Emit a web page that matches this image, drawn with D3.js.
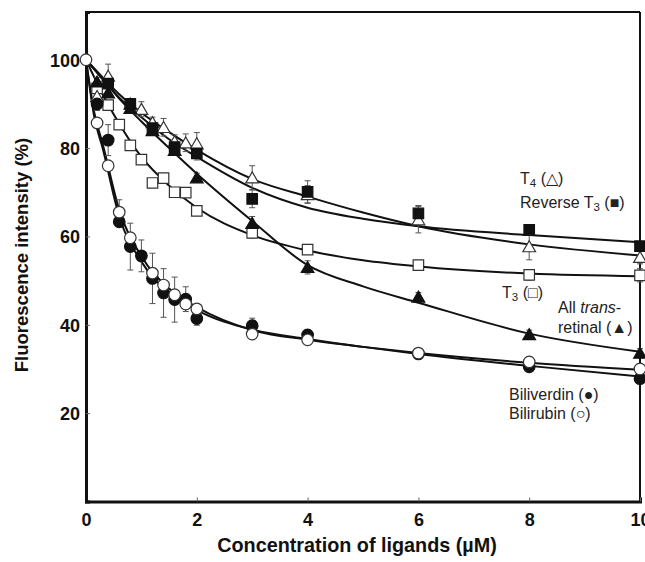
<!DOCTYPE html>
<html>
<head>
<meta charset="utf-8">
<script src="https://cdn.jsdelivr.net/npm/d3@7"></script>
<style>
  body { margin: 0; background: #fff; }
  svg { display: block; font-family: "Liberation Sans", Arial, Helvetica, sans-serif; }
  .tick text { font-weight: bold; font-size: 18px; fill: #111; }
  .lbl { font-size: 16px; fill: #222; }
</style>
</head>
<body>
<svg id="chart" width="645" height="562"></svg>
<script>
// measured points (x in µM, y in %)
const xBilirubin = [0, 0.2, 0.4, 0.6, 0.8, 1.2, 1.4, 1.6, 1.8, 2, 3, 4, 6, 8, 10]
const bilirubin = [100, 85.7, 76, 65.5, 59.7, 51.7, 49, 46.8, 44.7, 43.6, 37.9, 36.6, 33.6, 31.6, 30]
const bilirubinSd = [0, 0, 0, 2.8, 0, 0, 0, 0, 0, 0, 0, 0, 0, 0, 0]

const xBiliverdin = [0.2, 0.4, 0.6, 0.8, 1.0, 1.2, 1.4, 1.6, 1.8, 2, 3, 4, 6, 8, 10]
const biliverdin = [90, 81.8, 63.3, 57.7, 55.6, 50.5, 47.2, 45.7, 45.8, 41.4, 39.8, 37.7, 33.4, 30.5, 27.8]
const biliverdinSd = [1.5, 3.5, 0, 5.3, 3.6, 5.7, 5.5, 5.1, 2.8, 1.5, 1.7, 1.2, 1, 0.8, 0.8]

const xT3 = [0.2, 0.4, 0.6, 0.8, 1.0, 1.2, 1.4, 1.6, 1.8, 2, 3, 4, 6, 8, 10]
const t3 = [93.5, 89.7, 85.3, 80.6, 77.4, 72.1, 73.2, 70, 69.9, 65.8, 60.8, 57, 53.5, 51.3, 51.2]
const t3Sd = [0.8, 0.8, 1, 0.8, 0.8, 1, 0.8, 0.8, 0.8, 0.8, 1.2, 0.8, 0.8, 1.2, 1.5]

const xRevT3 = [0.4, 0.8, 1.2, 1.6, 2, 3, 4, 6, 8, 10]
const revT3 = [94.6, 90, 84.5, 80.2, 78.8, 68.5, 70.1, 65.2, 61.5, 57.8]
const revT3Sd = [1, 1, 1, 1.2, 1.5, 2, 2.5, 1.8, 1.2, 1]

const xT4 = [0.2, 0.4, 0.8, 1.0, 1.2, 1.4, 1.6, 1.8, 2, 3, 4, 6, 8, 10]
const t4 = [91.7, 96.3, 90, 88.8, 85.8, 84.7, 81.5, 81.2, 81, 73.3, 69.5, 63.8, 57.7, 55.3]
const t4Sd = [1, 2.7, 1, 1.7, 1.2, 2, 1.5, 2, 2.5, 2.7, 2, 3, 3, 1.5]

const xRetinal = [0.2, 0.4, 0.8, 1.2, 1.6, 2, 3, 4, 6, 8, 10]
const retinal = [95, 92.5, 89, 84, 79.5, 73.3, 63, 53, 46.3, 37.8, 33.6]
const retinalSd = [1, 1, 1, 1, 1, 1, 1.5, 1.5, 1, 1, 1]

// fitted curves
const fitX = [0, 0.15, 0.3, 0.6, 1, 1.5, 2, 3, 4, 5, 6, 8, 10]
const fitBilirubin = [100, 88, 81, 66, 55.5, 48.2, 44, 38.8, 36.6, 35, 33.6, 31.4, 29.8]
const fitBiliverdin = [100, 87, 80, 64.5, 54.3, 47.3, 43.3, 38.9, 36.8, 35, 33.4, 30.7, 28.3]
const fitT3 = [100, 96, 92.2, 85.5, 78, 71.5, 66.5, 60.3, 56.8, 54.6, 53.2, 51.6, 51]
const fitRetinal = [100, 97.8, 95.6, 91.2, 86, 80, 74.2, 63.5, 53.5, 48.7, 45, 38, 33.9]
const fitRevT3 = [100, 97.8, 95.6, 91.4, 87, 82, 78, 71, 66.5, 64, 62.3, 60.3, 58.7]
const fitT4 = [100, 98, 96, 92.2, 88, 83.6, 79.6, 73, 69, 65.4, 62.3, 58.2, 55.7]

const xTicks = [0, 2, 4, 6, 8, 10]
const yTicks = [20, 40, 60, 80, 100]

const margin = { top: 12, right: 5, bottom: 60.5, left: 86 }
const width = 645
const height = 562
const aWidth = width - margin.left - margin.right
const aHeight = height - margin.top - margin.bottom

const svg = d3.select('#chart')
const g = svg.append('g')
  .attr('transform', 'translate(' + margin.left + ',' + margin.top + ')')

const xScale = d3.scaleLinear().domain([0, 10]).range([0, aWidth])
const yScale = d3.scaleLinear().domain([0, 110.8]).range([aHeight, 0])

// frame
g.append('line').attr('x1', 0).attr('x2', aWidth).attr('y1', 0).attr('y2', 0)
  .attr('stroke', '#111').attr('stroke-width', 2)
g.append('line').attr('x1', aWidth).attr('x2', aWidth).attr('y1', 0).attr('y2', aHeight)
  .attr('stroke', '#111').attr('stroke-width', 2)

// axes
const xAxis = g.append('g')
  .attr('transform', 'translate(0,' + aHeight + ')')
  .call(d3.axisBottom(xScale).tickValues(xTicks).tickSize(-4).tickPadding(12))
const yAxis = g.append('g')
  .call(d3.axisLeft(yScale).tickValues(yTicks).tickSize(-4).tickPadding(6))

;[xAxis, yAxis].forEach(ax => {
  ax.select('.domain').attr('stroke', '#111').attr('stroke-width', 3)
  ax.selectAll('.tick line').attr('stroke', '#666').attr('stroke-width', 1)
})
xAxis.selectAll('.tick text').attr('dy', '0.71em')
yAxis.selectAll('.tick text').attr('dy', '0.36em')

// axis titles
svg.append('text')
  .attr('x', 357)
  .attr('y', 552)
  .attr('text-anchor', 'middle')
  .style('font-weight', 'bold').style('font-size', '19.8px').attr('fill', '#111')
  .text('Concentration of ligands (µM)')

svg.append('text')
  .attr('transform', 'translate(28,255) rotate(-90)')
  .attr('text-anchor', 'middle')
  .style('font-weight', 'bold').style('font-size', '18.5px').attr('fill', '#111')
  .text('Fluorescence intensity (%)')

// fit lines
const line = d3.line()
  .x((d, i) => xScale(fitX[i]))
  .y(d => yScale(d))
  .curve(d3.curveMonotoneX)

;[fitT3, fitRetinal, fitRevT3, fitT4, fitBilirubin, fitBiliverdin].forEach(f => {
  g.append('path')
    .attr('d', line(f))
    .attr('fill', 'none')
    .attr('stroke', '#111')
    .attr('stroke-width', 2)
})

// series setup
const series = [
  { xs: xT3, ys: t3, sd: t3Sd, shape: 'square', fill: '#fff' },
  { xs: xT4, ys: t4, sd: t4Sd, shape: 'triangle', fill: '#fff' },
  { xs: xRetinal, ys: retinal, sd: retinalSd, shape: 'triangle', fill: '#111' },
  { xs: xRevT3, ys: revT3, sd: revT3Sd, shape: 'square', fill: '#111' },
  { xs: xBiliverdin, ys: biliverdin, sd: biliverdinSd, shape: 'circle', fill: '#111' },
  { xs: xBilirubin, ys: bilirubin, sd: bilirubinSd, shape: 'circle', fill: '#fff' }
]

// error bars
series.forEach(s => {
  const pts = s.xs.map((x, i) => ({ x: x, y: s.ys[i], sd: s.sd[i] })).filter(d => d.sd > 0)
  const eb = g.append('g').attr('stroke', '#555').attr('stroke-width', 1)
  pts.forEach(d => {
    const cx = xScale(d.x)
    const y1 = yScale(d.y + d.sd)
    const y2 = yScale(d.y - d.sd)
    eb.append('line').attr('x1', cx).attr('x2', cx).attr('y1', y1).attr('y2', y2)
    eb.append('line').attr('x1', cx - 3).attr('x2', cx + 3).attr('y1', y1).attr('y2', y1)
    eb.append('line').attr('x1', cx - 3).attr('x2', cx + 3).attr('y1', y2).attr('y2', y2)
  })
})

// markers
const symbolType = {
  square: d3.symbolSquare,
  triangle: d3.symbolTriangle,
  circle: d3.symbolCircle
}
const symbolSize = { square: 110, triangle: 70, circle: 105 }

series.forEach(s => {
  const sym = d3.symbol().type(symbolType[s.shape]).size(symbolSize[s.shape])
  g.append('g').selectAll('path')
    .data(s.xs.map((x, i) => ({ x: x, y: s.ys[i] })))
    .enter()
    .append('path')
    .attr('d', sym)
    .attr('transform', d => 'translate(' + xScale(d.x) + ',' + (yScale(d.y) + (s.shape === 'triangle' ? 1.5 : 0)) + ')')
    .attr('fill', s.fill)
    .attr('stroke', s.fill === '#fff' ? '#333' : '#111')
    .attr('stroke-width', 1.2)
})

// labels
const labels = svg.append('g').attr('class', 'lbl')

function label (x, y, parts) {
  const t = labels.append('text').attr('x', x).attr('y', y).attr('class', 'lbl')
  parts.forEach(p => {
    const ts = t.append('tspan').text(p.t)
    if (p.sub) ts.attr('baseline-shift', '-28%').style('font-size', '11.5px')
    if (p.it) ts.style('font-style', 'italic')
  })
}

label(520, 184, [{ t: 'T' }, { t: '4', sub: true }, { t: ' (\u25B3)' }])
label(520, 208, [{ t: 'Reverse T' }, { t: '3', sub: true }, { t: ' (\u25A0)' }])
label(502, 298, [{ t: 'T' }, { t: '3', sub: true }, { t: ' (\u25A1)' }])
label(558, 313, [{ t: 'All ' }, { t: 'trans', it: true }, { t: '-' }])
label(558, 333, [{ t: 'retinal (\u25B2)' }])
label(509, 400, [{ t: 'Biliverdin (\u25CF)' }])
label(509, 419, [{ t: 'Bilirubin (\u25CB)' }])
</script>
</body>
</html>
